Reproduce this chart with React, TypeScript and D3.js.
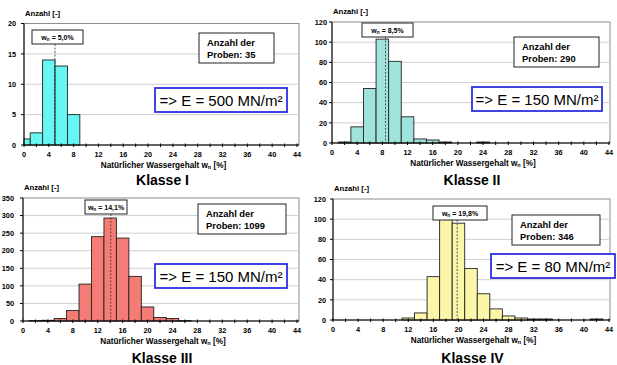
import { useRef, useEffect } from "react";
import * as d3 from "d3";

// x axis (natural water content in %)
const xTickLabels = [0, 4, 8, 12, 16, 20, 24, 28, 32, 36, 40, 44];
const xMinorTicks = [0, 2, 4, 6, 8, 10, 12, 14, 16, 18, 20, 22, 24, 26, 28, 30, 32, 34, 36, 38, 40, 42, 44];

// histogram bins (centre of a 2%-wide class) and counts per Klasse
const binsI = [0, 2, 4, 6, 8];
const countsI = [1, 2, 14, 13, 5];
const binsII = [2, 4, 6, 8, 10, 12, 14, 16, 18, 20, 22, 24];
const countsII = [1, 16, 54, 103, 81, 26, 4, 3, 1, 0, 0, 1];
const binsIII = [2, 4, 6, 8, 10, 12, 14, 16, 18, 20, 22, 24, 26];
const countsIII = [1, 2, 7, 30, 105, 240, 293, 236, 127, 40, 10, 7, 1];
const binsIV = [12, 14, 16, 18, 20, 22, 24, 26, 28, 30, 32, 34, 42];
const countsIV = [2, 7, 43, 101, 96, 51, 26, 11, 4, 2, 1, 1, 1];

const yTicksI = [0, 5, 10, 15, 20];
const yTicksII = [0, 20, 40, 60, 80, 100, 120];
const yTicksIII = [0, 50, 100, 150, 200, 250, 300, 350];
const yTicksIV = [0, 20, 40, 60, 80, 100, 120];

const classNames = ["Klasse I", "Klasse II", "Klasse III", "Klasse IV"];
const meanValues = [5.0, 8.5, 14.1, 19.8];
const meanLabels = ["5,0%", "8,5%", "14,1%", "19,8%"];
const sampleCounts = [35, 290, 1099, 346];
const modulusLabels = ["=> E = 500 MN/m²", "=> E = 150 MN/m²", "=> E = 150 MN/m²", "=> E = 80 MN/m²"];

const FONT = "'Liberation Sans', Arial, Helvetica, sans-serif";

function App() {
  const svgRef = useRef<SVGSVGElement>(null);

  useEffect(() => {
    const svg = d3.select(svgRef.current);
    svg.selectAll("*").remove();

    const panels = [
      { bins: binsI, counts: countsI, yTicks: yTicksI, fill: "#66f7f4", left: 24, xEnd: 297, right: 299, top: 23.5, bottom: 145, labelGap: 8, titleY: 185, mean: [32, 30, 51], probe: [199, 33, 75], blue: [155, 88, 132] },
      { bins: binsII, counts: countsII, yTicks: yTicksII, fill: "#a0e2dc", left: 332, xEnd: 609, right: 610, top: 22, bottom: 143, labelGap: 5, titleY: 185, mean: [362, 23, 51], probe: [514, 37, 85], blue: [472, 87, 130] },
      { bins: binsIII, counts: countsIII, yTicks: yTicksIII, fill: "#f47c75", left: 23, xEnd: 297, right: 299, top: 198, bottom: 321, labelGap: 9, titleY: 363, mean: [85, 200, 42], probe: [198, 204, 88], blue: [155, 264, 132] },
      { bins: binsIV, counts: countsIV, yTicks: yTicksIV, fill: "#fcf6a8", left: 333, xEnd: 609, right: 610, top: 199, bottom: 320, labelGap: 7, titleY: 363, mean: [433, 206, 54], probe: [512, 215, 88], blue: [491, 254, 124] },
    ];

    panels.forEach((p, i) => {
      const g = svg.append("g");
      const x = d3.scaleLinear().domain([0, 44]).range([p.left, p.xEnd]);
      const yMax = p.yTicks[p.yTicks.length - 1];
      const y = d3.scaleLinear().domain([0, yMax]).range([p.bottom, p.top]);

      // plot frame + grid
      g.append("rect")
        .attr("x", p.left).attr("y", p.top)
        .attr("width", p.right - p.left).attr("height", p.bottom - p.top)
        .attr("fill", "#fff").attr("stroke", "#8c8c8c").attr("stroke-width", 1);
      g.selectAll(".grid")
        .data(p.yTicks.filter((t) => t > 0 && t < yMax))
        .enter()
        .append("line")
        .attr("x1", p.left).attr("x2", p.right)
        .attr("y1", (d) => y(d)).attr("y2", (d) => y(d))
        .attr("stroke", "#cfcfcf").attr("stroke-width", 1);

      // bars
      const bars = p.bins.map((c, k) => ({ x0: Math.max(0, c - 1), x1: Math.min(44, c + 1), v: p.counts[k] })).filter((b) => b.v > 0);
      g.selectAll(".bar")
        .data(bars)
        .enter()
        .append("rect")
        .attr("x", (d) => x(d.x0))
        .attr("y", (d) => y(d.v))
        .attr("width", (d) => x(d.x1) - x(d.x0))
        .attr("height", (d) => y(0) - y(d.v))
        .attr("fill", p.fill)
        .attr("stroke", "#222")
        .attr("stroke-width", 0.9);

      // axes
      g.append("line").attr("x1", p.left).attr("x2", p.left).attr("y1", p.top).attr("y2", p.bottom).attr("stroke", "#000");
      g.append("line").attr("x1", p.left).attr("x2", p.right).attr("y1", p.bottom).attr("y2", p.bottom).attr("stroke", "#000");
      g.selectAll(".yt")
        .data(p.yTicks)
        .enter()
        .append("line")
        .attr("x1", p.left - 3).attr("x2", p.left)
        .attr("y1", (d) => y(d)).attr("y2", (d) => y(d))
        .attr("stroke", "#000");
      g.selectAll(".yl")
        .data(p.yTicks)
        .enter()
        .append("text")
        .attr("x", p.left - p.labelGap)
        .attr("y", (d) => y(d) + 2.7)
        .attr("text-anchor", "end")
        .attr("font-size", 7.3).attr("font-weight", "bold")
        .text((d) => d);
      g.selectAll(".xt")
        .data(xMinorTicks)
        .enter()
        .append("line")
        .attr("x1", (d) => x(d)).attr("x2", (d) => x(d))
        .attr("y1", p.bottom - 1.5).attr("y2", p.bottom + 2)
        .attr("stroke", "#000");
      g.selectAll(".xl")
        .data(xTickLabels)
        .enter()
        .append("text")
        .attr("x", (d) => x(d))
        .attr("y", p.bottom + 12)
        .attr("text-anchor", "middle")
        .attr("font-size", 7.3).attr("font-weight", "bold")
        .text((d) => d);

      // axis titles
      g.append("text")
        .attr("x", p.left + 1).attr("y", p.top - 8)
        .attr("font-size", 7.7).attr("font-weight", "bold")
        .text("Anzahl [-]");
      const xt = g.append("text")
        .attr("x", (p.left + p.right) / 2 + 2).attr("y", p.bottom + 22.5)
        .attr("text-anchor", "middle")
        .attr("font-size", 8.2).attr("font-weight", "bold");
      xt.append("tspan").text("Natürlicher Wassergehalt w");
      xt.append("tspan").attr("font-size", 5.5).attr("dy", 1.8).text("n");
      xt.append("tspan").attr("dy", -1.8).text(" [%]");

      // mean marker
      const [mx, my, mw] = p.mean;
      g.append("line")
        .attr("x1", x(meanValues[i])).attr("x2", x(meanValues[i]))
        .attr("y1", my + 14).attr("y2", p.bottom)
        .attr("stroke", "#333").attr("stroke-width", 0.8)
        .attr("stroke-dasharray", "2,1.5");
      g.append("rect")
        .attr("x", mx).attr("y", my).attr("width", mw).attr("height", 14)
        .attr("fill", "#fff").attr("stroke", "#222").attr("stroke-width", 1);
      const mt = g.append("text")
        .attr("x", mx + mw / 2).attr("y", my + 9.8)
        .attr("text-anchor", "middle")
        .attr("font-size", 7).attr("font-weight", "bold");
      mt.append("tspan").text("w");
      mt.append("tspan").attr("font-size", 4.8).attr("dy", 1.4).text("n");
      mt.append("tspan").attr("dy", -1.4).text(" = " + meanLabels[i]);

      // sample count box
      const [px, py, pw] = p.probe;
      g.append("rect")
        .attr("x", px).attr("y", py).attr("width", pw).attr("height", 30)
        .attr("fill", "#fff").attr("stroke", "#222").attr("stroke-width", 1);
      g.append("text")
        .attr("x", px + 8).attr("y", py + 12.5)
        .attr("font-size", 9.4).attr("font-weight", "bold")
        .text("Anzahl der");
      g.append("text")
        .attr("x", px + 8).attr("y", py + 25)
        .attr("font-size", 9.4).attr("font-weight", "bold")
        .text("Proben: " + sampleCounts[i]);

      // modulus box
      const [bx, by, bw] = p.blue;
      g.append("rect")
        .attr("x", bx).attr("y", by).attr("width", bw).attr("height", 24)
        .attr("fill", "#fff").attr("stroke", "#2f2fe0").attr("stroke-width", 1.8);
      g.append("text")
        .attr("x", bx + bw / 2).attr("y", by + 17.5)
        .attr("text-anchor", "middle")
        .attr("font-size", 15)
        .text(modulusLabels[i]);

      // class title
      g.append("text")
        .attr("x", (p.left + p.right) / 2 + 1).attr("y", p.titleY)
        .attr("text-anchor", "middle")
        .attr("font-size", 14).attr("font-weight", "bold")
        .text(classNames[i]);
    });
  }, []);

  return (
    <svg
      ref={svgRef}
      width={617}
      height={365}
      style={{ position: "absolute", left: 0, top: 0, background: "#fff", fontFamily: FONT }}
    ></svg>
  );
}

export default App;
